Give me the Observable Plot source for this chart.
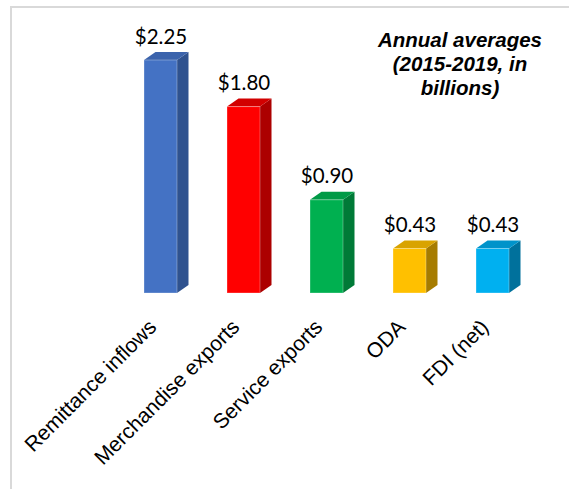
<!DOCTYPE html>
<html>
<head>
<meta charset="utf-8">
<script src="https://cdn.jsdelivr.net/npm/d3@7"></script>
<script src="https://cdn.jsdelivr.net/npm/@observablehq/plot@0.6"></script>
<style>
  html, body { margin: 0; padding: 0; background: #fff; }
  #wrap { position: relative; width: 569px; height: 489px; overflow: hidden; }
  #frame { position: absolute; left: 10px; top: 6px; width: 700px; height: 600px;
           border-top: 2px solid #d9d9d9; border-left: 2px solid #d9d9d9; }
  #title { position: absolute; left: 360px; top: 28px; width: 200px; text-align: center;
           font: italic bold 20.5px "Liberation Sans", Arial, sans-serif; line-height: 24px; color: #000; }
  #chart { position: absolute; left: 0; top: 0; }
</style>
</head>
<body>
<div id="wrap">
  <div id="frame"></div>
  <div id="chart"></div>
  <div id="title">Annual averages<br>(2015-2019, in<br>billions)</div>
</div>
<script>
const categories = ["Remittance inflows", "Merchandise exports", "Service exports", "ODA", "FDI (net)"];
const values = [2.25, 1.80, 0.90, 0.43, 0.43];
const valueLabels = ["$2.25", "$1.80", "$0.90", "$0.43", "$0.43"];
const frontColors = ["#4472C4", "#FF0000", "#00B050", "#FFC000", "#00B0F0"];
const topColors   = ["#3B63AC", "#D20000", "#009A46", "#D9A300", "#0093CA"];
const sideColors  = ["#2F528F", "#AC0000", "#007A37", "#A67C00", "#00719C"];

const data = categories.map((c, i) => ({
  category: c, value: values[i], label: valueLabels[i],
  front: frontColors[i], top: topColors[i], side: sideColors[i]
}));

const DX = 11.5, DY = 8;

function depthFaces(index, scales) {
  const g = d3.create("svg:g");
  const bw = scales.x.bandwidth();
  for (const d of data) {
    const x0 = scales.x(d.category), x1 = x0 + bw;
    const yt = scales.y(d.value), yb = scales.y(0);
    g.append("polygon")
      .attr("points", [[x1, yt], [x1 + DX, yt - DY], [x1 + DX, yb - DY], [x1, yb]].map(p => p.join(",")).join(" "))
      .attr("fill", d.side);
    g.append("polygon")
      .attr("points", [[x0, yt], [x0 + DX, yt - DY], [x1 + DX, yt - DY], [x1, yt]].map(p => p.join(",")).join(" "))
      .attr("fill", d.top);
  }
  return g.node();
}

const chart = Plot.plot({
  width: 569,
  height: 489,
  margin: 0,
  style: { background: "transparent", overflow: "visible" },
  x: { type: "band", domain: categories, range: [91.6, 562], padding: 0.6, axis: null },
  y: { domain: [0, 2.25], range: [293, 60], axis: null },
  color: { type: "identity" },
  marks: [
    depthFaces,
    Plot.barY(data, { x: "category", y: "value", fill: "front", stroke: "#ffffff", strokeOpacity: 0.3, strokeWidth: 1 }),
    Plot.text(data, {
      x: "category", y: "value", text: "label", dy: -17, lineAnchor: "bottom",
      fontSize: 20.5, fontFamily: "Lato, 'Open Sans', sans-serif", fill: "#000"
    }),
    Plot.text(data, {
      x: "category", y: d => 0, text: "category", rotate: -45, textAnchor: "end", lineAnchor: "middle",
      dx: -8, dy: 30, fontSize: 21, fontFamily: "'Liberation Sans', Arial, sans-serif", fill: "#000"
    })
  ]
});
document.getElementById("chart").appendChild(chart);
</script>
</body>
</html>
